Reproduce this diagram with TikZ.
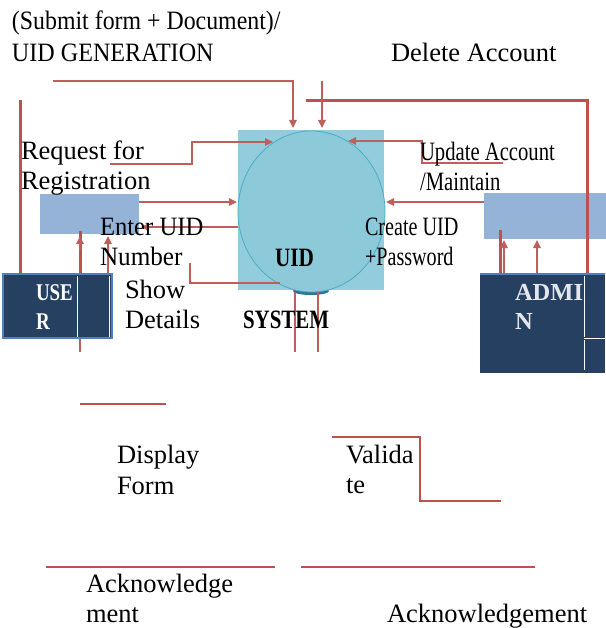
\documentclass[tikz,border=0pt]{standalone}
\usepackage{fontspec}
\usepackage{graphicx}
\setmainfont{Liberation Serif}
\usetikzlibrary{arrows.meta,shapes.geometric}
\definecolor{lnred}{HTML}{C0504D}
\definecolor{thinred}{HTML}{BE5F5C}
\definecolor{sqblue}{HTML}{93CDDD}
\definecolor{cblue}{HTML}{8CC9D9}
\definecolor{cedge}{HTML}{4BACC6}
\definecolor{cshadow}{HTML}{2E7590}
\definecolor{procblue}{HTML}{95B3D7}
\definecolor{navy}{HTML}{254061}
\definecolor{edgeblue}{HTML}{4F81BD}
\definecolor{admtxt}{HTML}{E4E6EE}
\tikzset{
  lbl/.style={anchor=base west, inner sep=0pt, outer sep=0pt, font=\fontsize{26.5}{30}\selectfont},
  thick red/.style={draw=lnred, line width=3pt},
  bar/.style={draw=lnred, line width=2.6pt},
  flow/.style={draw=thinred, line width=1.3pt},
  flowarrow/.style={flow, -{Triangle[length=8pt,width=7.5pt]}},
  navybox/.style={fill=navy, anchor=north west, inner sep=0pt, outer sep=0pt},
  procbox/.style={fill=procblue, anchor=north west, inner sep=0pt, outer sep=0pt}
}
\begin{document}
\begin{tikzpicture}[x=1pt,y=-1pt]
\useasboundingbox (0,0) rectangle (605,628);
% ---- shapes ----
\node[fill=sqblue, anchor=north west, minimum width=146pt, minimum height=160pt, inner sep=0pt] (sq) at (238,130) {};
\fill[cshadow] (311,291) ellipse [x radius=18, y radius=4];
\node[ellipse, fill=cblue, draw=cedge, line width=0.8pt, minimum width=147pt, minimum height=161pt, inner sep=0pt] (circ) at (311.5,211.5) {};
\node[procbox, minimum width=99pt, minimum height=40pt] (lrect) at (40,194) {};
\node[procbox, minimum width=125pt, minimum height=46pt] (rrect) at (484,193) {};
\node[navybox, draw=edgeblue, line width=2pt, minimum width=109pt, minimum height=64pt] (user) at (3,274) {};
\draw[white, line width=1pt] (77,276) -- (77,337);
\draw[white, line width=1pt] (109,276) -- (109,337);
\node[navybox, minimum width=125pt, minimum height=100pt] (admin) at (480,273) {};
\draw[edgeblue, line width=2.5pt] (480,274) -- (605,274);
\draw[white, line width=1pt] (584,276) -- (584,337) (584,340) -- (584,370);
\draw[white, line width=1pt] (584,338.5) -- (605,338.5);
% ---- coordinates ----
\coordinate (subS) at (53,81);   \coordinate (subK) at (293,81);  \coordinate (subE) at (293,128);
\coordinate (delS) at (322,81);  \coordinate (delE) at (322,128);
\coordinate (reqS) at (110,164); \coordinate (reqK1) at (192,164); \coordinate (reqK2) at (192,142); \coordinate (reqE) at (273,142);
\coordinate (inL) at (139,202);  \coordinate (inLE) at (237,202);
\coordinate (outL) at (238,227); \coordinate (outLE) at (141,227);
\coordinate (shS) at (190,263);  \coordinate (shK) at (190,283); \coordinate (shE) at (280,283);
\coordinate (dn1S) at (295,292); \coordinate (dn1E) at (295,352);
\coordinate (dn2S) at (318,292); \coordinate (dn2E) at (318,352);
\coordinate (upS) at (503,163);  \coordinate (upK1) at (422,163); \coordinate (upK2) at (422,141); \coordinate (upE) at (348,141);
\coordinate (inR) at (484,202);  \coordinate (inRE) at (386,202);
\coordinate (ad1S) at (504,273); \coordinate (ad1E) at (504,240);
\coordinate (ad2S) at (537,273); \coordinate (ad2E) at (537,240);
\coordinate (us1S) at (108,273); \coordinate (us1E) at (108,236);
\coordinate (us2S) at (80,273);  \coordinate (us2T) at (80,231); \coordinate (us2A) at (80,250); \coordinate (us2E) at (80,236);
\coordinate (usbS) at (80,339);  \coordinate (usbE) at (80,352);
\coordinate (lvT) at (20,100);   \coordinate (lvB) at (20,274);
\coordinate (tpS) at (306,101);  \coordinate (tpK) at (587,101); \coordinate (tpE) at (587,273);
\coordinate (rvT) at (500,230);  \coordinate (rvB) at (500,273);
\coordinate (b1S) at (80,404);   \coordinate (b1E) at (166,404);
\coordinate (vS) at (332,437);   \coordinate (vK1) at (420,437); \coordinate (vK2) at (420,501); \coordinate (vE) at (501,501);
\coordinate (b2S) at (46,567);   \coordinate (b2E) at (275,567);
\coordinate (b3S) at (301,567);  \coordinate (b3E) at (535,567);
% ---- thick lines ----
\draw[thick red] (lvT) -- (lvB);
\draw[thick red] (tpS) -- (tpK) -- (tpE);
\draw[thick red] (rvT) -- (rvB);
\draw[thick red] (us2S) -- (us2T);
\draw[bar] (b1S) -- (b1E);
\draw[bar] (vS) -- (vK1) -- (vK2) -- (vE);
\draw[bar] (b2S) -- (b2E);
\draw[bar] (b3S) -- (b3E);
% ---- thin flows ----
\draw[flowarrow] (subS) -- (subK) -- (subE);
\draw[flowarrow] (delS) -- (delE);
\draw[flowarrow] (reqS) -- (reqK1) -- (reqK2) -- (reqE);
\draw[flowarrow] (inL) -- (inLE);
\draw[flowarrow] (outL) -- (outLE);
\draw[flow] (shS) -- (shK) -- (shE);
\draw[flow] (dn1S) -- (dn1E);
\draw[flow] (dn2S) -- (dn2E);
\draw[flowarrow] (upS) -- (upK1) -- (upK2) -- (upE);
\draw[flowarrow] (inR) -- (inRE);
\draw[flowarrow] (ad1S) -- (ad1E);
\draw[flowarrow] (ad2S) -- (ad2E);
\draw[flowarrow] (us1S) -- (us1E);
\draw[flowarrow] (us2A) -- (us2E);
\draw[flow] (usbS) -- (usbE);
% ---- texts ----
\node[lbl] (sub1) at (12,30) {\scalebox{0.9}[1]{(Submit form + Document)/}};
\node[lbl] (sub2) at (12,62) {\scalebox{0.91}[1]{UID GENERATION}};
\node[lbl] (del) at (391,62) {Delete Account};
\node[lbl] (req1) at (21,160) {Request for};
\node[lbl] (req2) at (21,190) {Registration};
\node[lbl] (ent1) at (100,235) {\scalebox{0.93}[1]{Enter UID}};
\node[lbl] (ent2) at (100,265) {\scalebox{0.95}[1]{Number}};
\node[lbl] (show1) at (125,298) {Show};
\node[lbl] (show2) at (125,328) {Details};
\node[lbl] (uid) at (275,266) {\scalebox{0.8}[1]{\bfseries UID}};
\node[lbl] (sys) at (243,328) {\scalebox{0.79}[1]{\bfseries SYSTEM}};
\node[lbl] (upd1) at (420,161) {\scalebox{0.78}[1]{Update Account}};
\node[lbl] (upd2) at (420,191) {\scalebox{0.78}[1]{/Maintain}};
\node[lbl] (cre1) at (365,235) {\scalebox{0.76}[1]{Create UID}};
\node[lbl] (cre2) at (365,265) {\scalebox{0.76}[1]{+Password}};
\node[lbl, text=white, font=\fontsize{24}{30}\selectfont\bfseries] (use1) at (36,300) {\scalebox{0.79}[1]{USE}};
\node[lbl, text=white, font=\fontsize{24}{30}\selectfont\bfseries] (use2) at (36,329) {\scalebox{0.79}[1]{R}};
\node[lbl, text=admtxt, font=\fontsize{24.5}{30}\selectfont\bfseries] (adm1) at (515,300) {ADMI};
\node[lbl, text=admtxt, font=\fontsize{24.5}{30}\selectfont\bfseries] (adm2) at (515,329) {N};
\node[lbl] (disp1) at (117,463) {Display};
\node[lbl] (disp2) at (117,494) {Form};
\node[lbl] (val1) at (346,463) {Valida};
\node[lbl] (val2) at (346,493) {te};
\node[lbl] (ack1) at (86,592) {Acknowledge};
\node[lbl] (ack2) at (86,622) {ment};
\node[lbl] (ack3) at (387,622) {Acknowledgement};
\end{tikzpicture}
\end{document}
